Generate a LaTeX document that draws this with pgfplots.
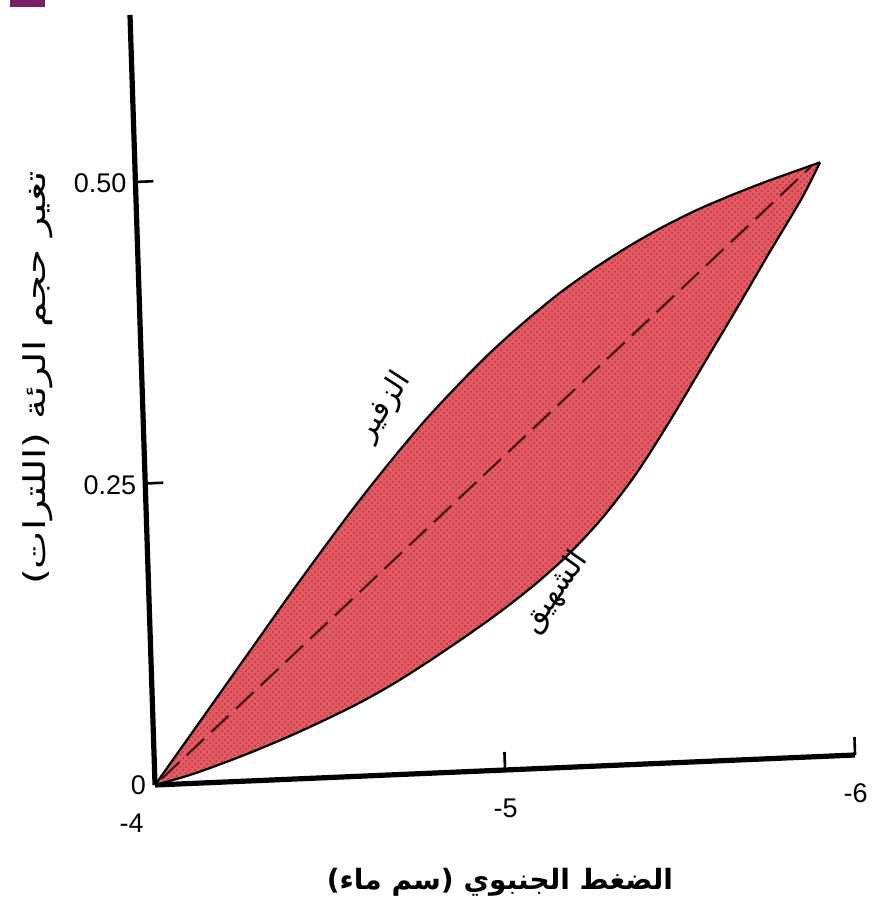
\documentclass[border=0pt]{standalone}
\usepackage{pgfplots}
\pgfplotsset{compat=1.18}
\usepgfplotslibrary{fillbetween}
\usetikzlibrary{patterns}
\usepackage{fontspec}
\setmainfont{Liberation Sans}
\newfontfamily\arabicfont[Script=Arabic]{DejaVu Sans}
\TeXXeTstate=1
\definecolor{loopred}{RGB}{226,90,98}
\definecolor{dotred}{RGB}{185,48,60}
\definecolor{midline}{RGB}{70,20,25}
\definecolor{smudge}{RGB}{120,30,100}

\begin{document}
\begin{tikzpicture}
\fill[smudge] (-72.5pt,389pt) rectangle (-55pt,392.5pt);
\begin{axis}[
  at={(-12.5pt,0pt)}, anchor=south west,
  x={(175pt,7.5pt)}, y={(-19.6pt,603pt)}, x dir=reverse,
  xmin=-6, xmax=-4, ymin=0, ymax=0.6385,
  axis lines*=left,
  axis line style={line width=2.6pt, black},
  xtick={-4,-5,-6}, xticklabels={{\makebox[0pt][r]{-4\hspace{6pt}}},{-5},{-6}},
  ytick={0,0.25,0.5}, yticklabels={0,0.25,0.50},
  tick align=inside, major tick length=9pt,
  tick style={line width=1.3pt, black},
  ticklabel style={font=\fontsize{13.5}{15}\selectfont},
  xticklabel style={yshift=-11pt},
  yticklabel style={xshift=-1pt},
  set layers, clip=false,
]
% expiration branch (upper)
\addplot[name path=up, smooth, black, line width=1.1pt] coordinates {
  (-4,0) (-4.1,0.038) (-4.2,0.076) (-4.3,0.114) (-4.4,0.152) (-4.5,0.189)
  (-4.6,0.225) (-4.7,0.259) (-4.8,0.291) (-4.9,0.320) (-5.0,0.347)
  (-5.1,0.371) (-5.2,0.393) (-5.3,0.412) (-5.4,0.429) (-5.5,0.444)
  (-5.6,0.457) (-5.7,0.468) (-5.8,0.478) (-5.9,0.487) (-5.955,0.492)};
% inspiration branch (lower)
\addplot[name path=lo, smooth, black, line width=1.1pt] coordinates {
  (-4,0) (-4.1,0.007) (-4.2,0.016) (-4.3,0.026) (-4.4,0.037) (-4.5,0.049)
  (-4.6,0.062) (-4.7,0.077) (-4.8,0.094) (-4.9,0.112) (-5.0,0.131)
  (-5.1,0.152) (-5.2,0.176) (-5.3,0.205) (-5.4,0.240) (-5.5,0.282)
  (-5.6,0.327) (-5.7,0.372) (-5.8,0.418) (-5.9,0.463) (-5.955,0.492)};
\addplot[fill=loopred, draw=none] fill between[of=up and lo];
\addplot[pattern=crosshatch dots, pattern color=dotred, draw=none] fill between[of=up and lo];
% compliance line
\addplot[midline, line width=1.1pt, dash pattern=on 12pt off 5pt] coordinates {(-4.02,0.005) (-5.93,0.489)};
\node[rotate=57, font=\arabicfont\fontsize{15}{17}\selectfont] at (axis cs:-4.69,0.305) {\beginR الزفير\endR};
\node[rotate=55, font=\arabicfont\fontsize{15}{17}\selectfont] at (axis cs:-5.16,0.145) {\beginR الشهيق\endR};
\end{axis}
\node[font=\arabicfont\bfseries\fontsize{14}{16}\selectfont] at (172.5pt,-48.5pt) {\beginR الضغط الجنبوي (سم ماء)\endR};
\node[rotate=90] at (-58.5pt,203.5pt) {\scalebox{1.35}[1]{\arabicfont\fontsize{15}{17}\selectfont\beginR تغير حجم الرئة (اللترات)\endR}};
\pgfresetboundingbox
\useasboundingbox (-77.5pt,-60pt) rectangle (359pt,392.5pt);
\end{tikzpicture}
\end{document}
